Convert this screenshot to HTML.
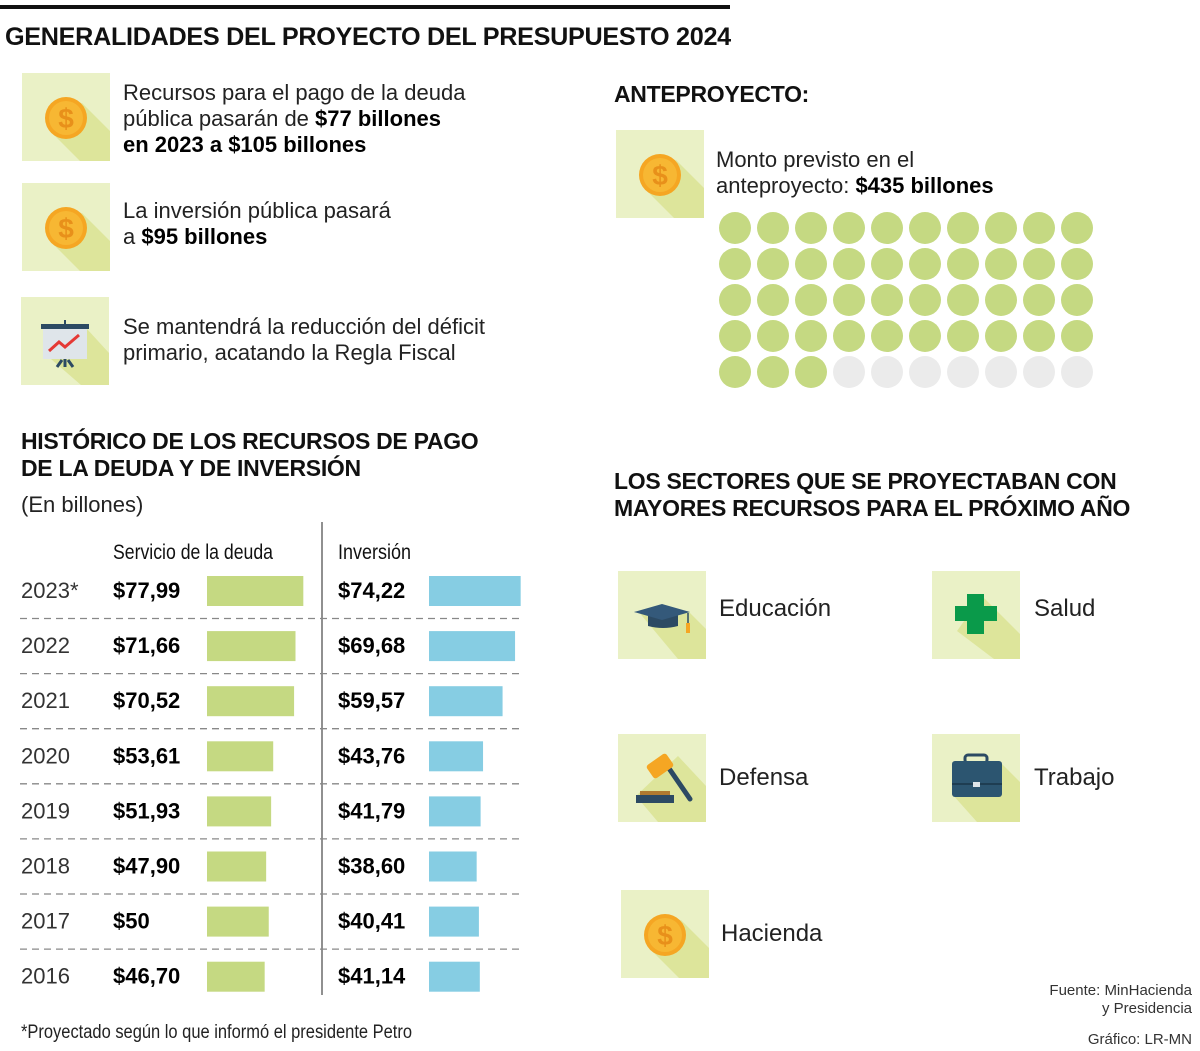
<!DOCTYPE html>
<html><head><meta charset="utf-8">
<style>
body{margin:0;background:#fff;}
#root{position:relative;width:1200px;height:1051px;overflow:hidden;font-family:"Liberation Sans",sans-serif;color:#1a1a1a;}
.a{position:absolute;white-space:nowrap;}
.h{font-weight:bold;font-size:23px;color:#111;letter-spacing:-0.3px;}
.t{font-size:22px;line-height:26px;color:#222;}
.t b{color:#000;}
.icon{position:absolute;width:88px;height:88px;}
</style></head><body>
<div id="root">
<div class="a" style="left:0;top:5px;width:730px;height:4px;background:#111"></div>
<div class="a h" style="left:5px;top:23px;font-size:25.2px">GENERALIDADES DEL PROYECTO DEL PRESUPUESTO 2024</div>

<svg class="icon" style="left:22px;top:73px" viewBox="0 0 88 88"><rect width="88" height="88" fill="#eaf1c6"/><polygon points="30,60 60,30 88,58 88,88 58,88" fill="#dde59b"/><circle cx="44" cy="45" r="21" fill="#f5a623"/><circle cx="44" cy="45" r="17" fill="#f7b733"/><text x="44" y="55" font-size="28" font-weight="bold" text-anchor="middle" fill="#e8901a" font-family="Liberation Sans">$</text></svg>
<div class="a t" style="left:123px;top:80px">Recursos para el pago de la deuda<br>pública pasarán de <b>$77 billones</b><br><b>en 2023 a $105 billones</b></div>

<svg class="icon" style="left:22px;top:183px" viewBox="0 0 88 88"><rect width="88" height="88" fill="#eaf1c6"/><polygon points="30,60 60,30 88,58 88,88 58,88" fill="#dde59b"/><circle cx="44" cy="45" r="21" fill="#f5a623"/><circle cx="44" cy="45" r="17" fill="#f7b733"/><text x="44" y="55" font-size="28" font-weight="bold" text-anchor="middle" fill="#e8901a" font-family="Liberation Sans">$</text></svg>
<div class="a t" style="left:123px;top:198px">La inversión pública pasará<br>a <b>$95 billones</b></div>

<svg class="icon" style="left:21px;top:297px" viewBox="0 0 88 88"><rect width="88" height="88" fill="#eaf1c6"/><polygon points="30,62 66,32 88,56 88,88 60,88" fill="#dde59b"/><rect x="22" y="30" width="44" height="32" fill="#dfe5ea"/><rect x="20" y="27" width="48" height="5" fill="#2c4a63"/><line x1="44" y1="23" x2="44" y2="28" stroke="#2c4a63" stroke-width="2"/><polyline points="28,54 38,45 44,50 58,38" fill="none" stroke="#e53935" stroke-width="3"/><path d="M44 62 V70 M36 70 L41 63 M52 70 L47 63" stroke="#2c4a63" stroke-width="3"/></svg>
<div class="a t" style="left:123px;top:314px">Se mantendrá la reducción del déficit<br>primario, acatando la Regla Fiscal</div>

<div class="a h" style="left:614px;top:81px">ANTEPROYECTO:</div>
<svg class="icon" style="left:616px;top:130px" viewBox="0 0 88 88"><rect width="88" height="88" fill="#eaf1c6"/><polygon points="30,60 60,30 88,58 88,88 58,88" fill="#dde59b"/><circle cx="44" cy="45" r="21" fill="#f5a623"/><circle cx="44" cy="45" r="17" fill="#f7b733"/><text x="44" y="55" font-size="28" font-weight="bold" text-anchor="middle" fill="#e8901a" font-family="Liberation Sans">$</text></svg>
<div class="a t" style="left:716px;top:147px">Monto previsto en el<br>anteproyecto: <b>$435 billones</b></div>
<svg class="a" id="dots" style="left:700px;top:200px" width="420" height="200"></svg>

<div class="a h" style="left:21px;top:428px;line-height:27px">HISTÓRICO DE LOS RECURSOS DE PAGO<br>DE LA DEUDA Y DE INVERSIÓN</div>
<div class="a t" style="left:21px;top:492px">(En billones)</div>

<svg class="a" id="table" style="left:0;top:515px" width="540" height="490"></svg>

<div class="a" style="left:21px;top:1022px;font-size:19px;color:#222;transform:scaleX(0.867);transform-origin:0 0">*Proyectado según lo que informó el presidente Petro</div>

<div class="a h" style="left:614px;top:468px;line-height:27px">LOS SECTORES QUE SE PROYECTABAN CON<br>MAYORES RECURSOS PARA EL PRÓXIMO AÑO</div>

<svg class="icon" style="left:618px;top:571px" viewBox="0 0 88 88"><rect width="88" height="88" fill="#eaf1c6"/><polygon points="20,40 70,40 88,58 88,88 60,88" fill="#dde59b"/><path d="M30 42 h30 v13 q-15 4 -30 0z" fill="#2c4a63"/><polygon points="16,41 44,33 72,41 44,49" fill="#34597a"/><line x1="70" y1="42" x2="70" y2="58" stroke="#2c4a63" stroke-width="1.5"/><rect x="68" y="52" width="4" height="10" fill="#f5a623"/></svg>
<div class="a t" style="left:719px;top:596px;font-size:24px">Educación</div>

<svg class="icon" style="left:932px;top:571px" viewBox="0 0 88 88"><rect width="88" height="88" fill="#eaf1c6"/><polygon points="25,60 50,25 88,63 88,88 62,88" fill="#dde59b"/><path d="M35 23 h17 v12 h13 v15 h-13 v13 h-17 v-13 h-12 v-15 h12z" fill="#0a9a4a"/></svg>
<div class="a t" style="left:1034px;top:596px;font-size:24px">Salud</div>

<svg class="icon" style="left:618px;top:734px" viewBox="0 0 88 88"><rect width="88" height="88" fill="#eaf1c6"/><polygon points="18,62 60,22 88,52 88,88 40,88" fill="#dde59b"/><line x1="48" y1="30" x2="72" y2="65" stroke="#2c4a63" stroke-width="5" stroke-linecap="round"/><rect x="30" y="24" width="24" height="16" rx="3" transform="rotate(-35 42 32)" fill="#f5a623"/><rect x="18" y="61" width="38" height="8" fill="#2c4a63"/><rect x="22" y="57" width="30" height="4" fill="#b07a30"/></svg>
<div class="a t" style="left:719px;top:765px;font-size:24px">Defensa</div>

<svg class="icon" style="left:932px;top:734px" viewBox="0 0 88 88"><rect width="88" height="88" fill="#eaf1c6"/><polygon points="20,60 70,30 88,48 88,88 45,88" fill="#dde59b"/><rect x="33" y="21" width="22" height="8" rx="3" fill="none" stroke="#2c4a63" stroke-width="3"/><rect x="20" y="27" width="50" height="36" rx="3" fill="#2c5570"/><line x1="20" y1="50" x2="70" y2="50" stroke="#1e3d52" stroke-width="2"/><rect x="41" y="48" width="7" height="5" fill="#dfe5ea"/></svg>
<div class="a t" style="left:1034px;top:765px;font-size:24px">Trabajo</div>

<svg class="icon" style="left:621px;top:890px" viewBox="0 0 88 88"><rect width="88" height="88" fill="#eaf1c6"/><polygon points="30,60 60,30 88,58 88,88 58,88" fill="#dde59b"/><circle cx="44" cy="45" r="21" fill="#f5a623"/><circle cx="44" cy="45" r="17" fill="#f7b733"/><text x="44" y="55" font-size="28" font-weight="bold" text-anchor="middle" fill="#e8901a" font-family="Liberation Sans">$</text></svg>
<div class="a t" style="left:721px;top:921px;font-size:24px">Hacienda</div>

<div class="a" style="right:8px;top:982px;font-size:15px;line-height:18px;text-align:right;color:#333">Fuente: MinHacienda<br>y Presidencia</div>
<div class="a" style="right:8px;top:1031px;font-size:15px;color:#333">Gráfico: LR-MN</div>
</div>
<script>
const years=["2023*","2022","2021","2020","2019","2018","2017","2016"];
const deuda=[77.99,71.66,70.52,53.61,51.93,47.90,50,46.70];
const deudaLbl=["$77,99","$71,66","$70,52","$53,61","$51,93","$47,90","$50","$46,70"];
const inversion=[74.22,69.68,59.57,43.76,41.79,38.60,40.41,41.14];
const invLbl=["$74,22","$69,68","$59,57","$43,76","$41,79","$38,60","$40,41","$41,14"];
const totalDots=50, greenDots=43;
const NS="http://www.w3.org/2000/svg";
function mk(p,tag,at,txt){const e=document.createElementNS(NS,tag);for(const k in at)e.setAttribute(k,at[k]);if(txt!==undefined)e.textContent=txt;p.appendChild(e);return e;}
const d=document.getElementById('dots');
for(let i=0;i<totalDots;i++){
 const c=mk(d,'circle',{cx:35+(i%10)*38,cy:28+Math.floor(i/10)*36,r:16,fill:i<greenDots?'#c5d982':'#ebebeb'});
 
 
}
const t=document.getElementById('table');
const sc=1.235, y0=61, pitch=55.1, gx=207, bx=429;
let h1=mk(t,'text',{x:113,y:44,'font-size':21,fill:'#111','font-family':'Liberation Sans',textLength:160,lengthAdjust:'spacingAndGlyphs'},'Servicio de la deuda');

let h2=mk(t,'text',{x:338,y:44,'font-size':21,fill:'#111','font-family':'Liberation Sans',textLength:73,lengthAdjust:'spacingAndGlyphs'},'Inversión');

let dv=mk(t,'line',{x1:322,y1:7,x2:322,y2:480,stroke:'#555','stroke-width':1.3});

years.forEach((yr,i)=>{
 const top=y0+i*pitch, base=top+22;
 let a=mk(t,'text',{x:21,y:base,'font-size':22,fill:'#333','font-family':'Liberation Sans'},yr);
 
 let b=mk(t,'text',{x:113,y:base,'font-size':22,'font-weight':'bold',fill:'#000','font-family':'Liberation Sans'},deudaLbl[i]);
 
 let r=mk(t,'rect',{x:gx,y:top,width:deuda[i]*sc,height:30,fill:'#c5d982'});
 
 let c=mk(t,'text',{x:338,y:base,'font-size':22,'font-weight':'bold',fill:'#000','font-family':'Liberation Sans'},invLbl[i]);
 
 let r2=mk(t,'rect',{x:bx,y:top,width:inversion[i]*sc,height:30,fill:'#86cde3'});
 
 if(i<years.length-1){
  let l=mk(t,'line',{x1:20,y1:top+42.5,x2:522,y2:top+42.5,stroke:'#888','stroke-width':1.3,'stroke-dasharray':'7,5'});
  
 }
});
</script>
</body></html>
